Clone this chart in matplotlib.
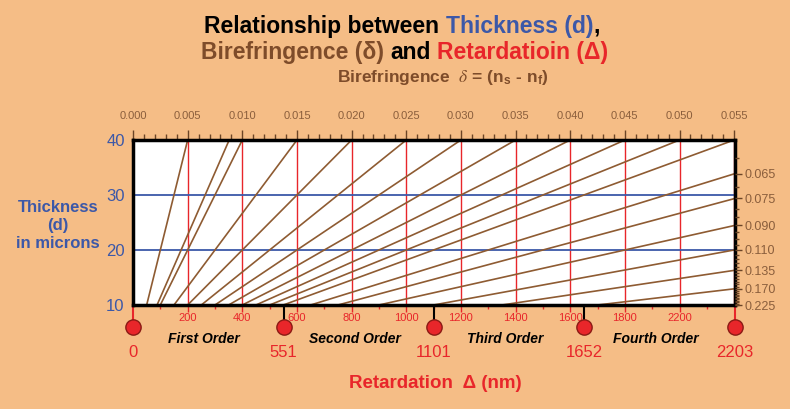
import numpy as np
import matplotlib.pyplot as plt

plt.rcParams['font.family'] = ['Liberation Sans', 'DejaVu Sans']
plt.rcParams['mathtext.fontset'] = 'stix'

# values
retardation_major = [200, 400, 600, 800, 1000, 1200, 1400, 1600, 1800, 2000]
retardation_labels = ['200', '400', '600', '800', '1000', '1200', '1400', '1600', '1800', '2200']
retardation_minor = [100, 300, 500, 700, 900, 1100, 1300, 1500, 1700, 1900, 2100]
red_lines = [200, 400, 600, 800, 1000, 1200, 1400, 1600, 1800, 2000, 2200]
thickness_ticks = [10, 20, 30, 40]
thickness_grid = [20, 30]
biref_top = [0.000, 0.005, 0.010, 0.015, 0.020, 0.025, 0.030, 0.035, 0.040, 0.045, 0.050, 0.055]
biref_lines = [0.005, 0.0088, 0.010, 0.015, 0.020, 0.025, 0.030, 0.035, 0.040, 0.045,
               0.050, 0.055, 0.065, 0.075, 0.090, 0.110, 0.135, 0.170, 0.225]
biref_right = [0.065, 0.075, 0.090, 0.110, 0.135, 0.170, 0.225]
biref_right_minor = [0.060, 0.070, 0.080, 0.085, 0.095, 0.100, 0.105, 0.115, 0.120, 0.125,
                     0.130, 0.140, 0.145, 0.150, 0.155, 0.160, 0.165, 0.175, 0.180, 0.185,
                     0.190, 0.195, 0.200, 0.205, 0.210, 0.215, 0.220]
order_marks = [0, 551, 1101, 1652, 2203]
order_names = ['First Order', 'Second Order', 'Third Order', 'Fourth Order']

BG = '#F5BD86'
BLUE = '#3C58A8'
RED = '#E8262A'
BROWN = '#7E4C2A'
LINE_BROWN = '#8E5B32'
W, H = 790, 409
dmax = order_marks[-1]

fig = plt.figure(figsize=(W / 100, H / 100), dpi=100)
fig.patch.set_facecolor(BG)
ax = fig.add_axes([133 / W, 1 - 305 / H, 602 / W, 165 / H])
ax.set_facecolor('white')
ax.set_xlim(0, dmax)
ax.set_ylim(10, 40)

# grid lines
for x in red_lines:
    ax.axvline(x, color=RED, lw=1.0, zorder=1)
for y in thickness_grid:
    ax.axhline(y, color=BLUE, lw=1.3, zorder=1)

# birefringence lines: retardation = 1000 * delta * thickness
d = np.array([0.0, 40.0])
for b in biref_lines:
    ax.plot(1000 * b * d, d, color=LINE_BROWN, lw=1.2, zorder=2)

for s in ax.spines.values():
    s.set_linewidth(2.5)
    s.set_color('black')
    s.set_zorder(5)

# bottom axis
ax.set_xticks(retardation_major)
ax.set_xticklabels(retardation_labels)
ax.set_xticks(retardation_minor, minor=True)
ax.tick_params(axis='x', which='major', colors=RED, labelcolor=RED, labelsize=8,
               length=5, width=1, pad=1)
ax.tick_params(axis='x', which='minor', colors=RED, length=3, width=1)

# left axis
ax.set_yticks(thickness_ticks)
ax.tick_params(axis='y', labelcolor=BLUE, labelsize=12, length=0, pad=6)

# top axis (birefringence at 40 microns)
top = ax.secondary_xaxis('top', functions=(lambda x: x / 40000, lambda b: b * 40000))
top.set_xticks(biref_top)
top.set_xticklabels(['%.3f' % v for v in biref_top])
top.set_xticks(np.arange(0, 0.0555, 0.001), minor=True)
top.tick_params(axis='x', which='major', colors='#6B4426', labelcolor='#8A5E3C',
                labelsize=8, length=7, width=1, pad=7)
top.tick_params(axis='x', which='minor', colors='#6B4426', length=4, width=1)
top.spines['top'].set_visible(False)

# right axis (birefringence at the right edge)
right = ax.twinx()
right.set_ylim(10, 40)
right.set_yticks([max(dmax / 1000 / b, 10) for b in biref_right])
right.set_yticklabels(['%.3f' % b for b in biref_right])
right.set_yticks([dmax / 1000 / b for b in biref_right_minor], minor=True)
right.tick_params(axis='y', which='major', colors='#6B4426', labelcolor='#8A5E3C',
                  labelsize=9, length=5, width=1, pad=2)
right.tick_params(axis='y', which='minor', colors='#6B4426', length=3, width=1)
for s in right.spines.values():
    s.set_visible(False)

# order markers
tr = ax.get_xaxis_transform()
stem_colors = [RED, 'black', 'black', 'black', RED]
ax.vlines(order_marks, -0.135, 0, colors=stem_colors, lw=1.5, transform=tr, clip_on=False)
ax.plot(order_marks, [-0.135] * len(order_marks), 'o', ms=11, mfc=RED, mec='#8A1A14',
        mew=1, transform=tr, clip_on=False, zorder=6)
for v in order_marks:
    ax.text(v, -0.29, str(v), color=RED, fontsize=12, ha='center', va='center',
            transform=tr)
for i, name in enumerate(order_names):
    xm = (order_marks[i] + order_marks[i + 1]) / 2
    ax.text(xm - 15, -0.205, name, fontsize=10, fontweight='bold', fontstyle='italic',
            ha='center', va='center', transform=tr)

fig.text(435 / W, 1 - 383 / H, 'Retardation  \u0394 (nm)', color=RED, fontsize=13.5,
         fontweight='bold', ha='center', va='center')
fig.text(58 / W, 1 - 225 / H, 'Thickness\n(d)\nin microns', color=BLUE, fontsize=12,
         fontweight='bold', ha='center', va='center', linespacing=1.25)


# multicolour title lines
renderer = fig.canvas.get_renderer()


def text_width(s, **kw):
    t = fig.text(0, 0, s, **kw)
    w = t.get_window_extent(renderer).width
    t.remove()
    return w


def rich_line(xc, y, parts, **kw):
    space = text_width('n n', **kw) - text_width('nn', **kw)
    widths = []
    for s, c in parts:
        core = s.strip()
        lead = len(s) - len(s.lstrip())
        trail = len(s) - len(s.rstrip())
        widths.append((core, c, lead * space, text_width(core, **kw), trail * space))
    total = sum(a + b + e for _, _, a, b, e in widths)
    x = xc - total / 2
    for core, c, a, b, e in widths:
        x += a
        fig.text(x / W, 1 - y / H, core, color=c, ha='left', va='baseline', **kw)
        x += b + e


title_kw = dict(fontsize=16.5, fontweight='bold')
rich_line(402, 33, [('Relationship between ', 'black'), ('Thickness (d)', BLUE),
                    (',', 'black')], **title_kw)
rich_line(405, 59, [('Birefringence (\u03b4) ', BROWN), ('and ', 'black'),
                    ('Retardatioin (\u0394)', RED)], **title_kw)
fig.text(443 / W, 1 - 82 / H, r'Birefringence  $\delta$ = (n$_\mathregular{s}$ - n$_\mathregular{f}$)',
         color=BROWN, fontsize=12.5, fontweight='bold', ha='center', va='baseline')

fig.savefig('out.png', dpi=100, facecolor=BG)
